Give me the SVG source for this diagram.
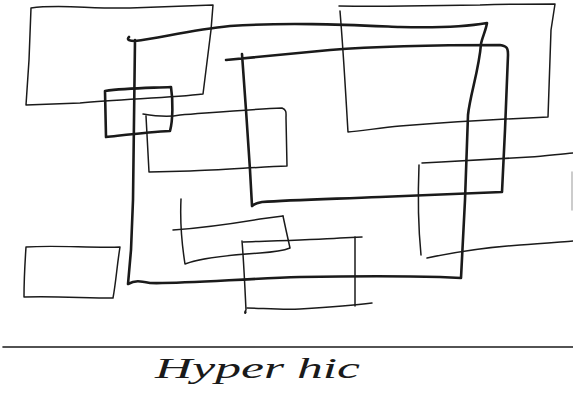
<svg xmlns="http://www.w3.org/2000/svg" width="573" height="395" viewBox="0 0 573 395">
<style>
.s{fill:none;stroke:#1a1a1a;stroke-linecap:round;stroke-linejoin:round}
.thin{stroke-width:1.5}
.thick{stroke-width:2.6}
.lbl{font-family:"Liberation Serif","DejaVu Serif",serif;font-style:italic;font-size:30px;fill:#1a1a1a}
</style>
<rect width="573" height="395" fill="#fff"/>
<g id="rect-top-left"><path class="s thin" d="M31,8 C60,4 90,9 130,8 C160,7 190,6 213,5 L211,30 L203,94 C170,98 120,99 80,103 L26,105 L29,60 L31,8"/></g>
<g id="rect-big"><path class="s thick" d="M129,37 C126,40 130,41 135,41 C160,38 190,30 230,26 C290,22 350,25 400,27 C440,28 470,26 487,23 C486,30 482,38 481,44 C479,70 470,95 468,115 L465,200 L461,278 L440,277 C400,276 360,276 300,277 C240,279 180,284 150,283 C140,281 135,280 128,284 L131,250 L133,200 L135,40"/></g>
<g id="rect-small"><path class="s thick" d="M105,91 C125,88 150,88 171,87 C173,100 173,120 170,131 C150,132 125,135 106,137 L105,91"/></g>
<g id="rect-mid-left"><path class="s thin" d="M143,114 C155,116 170,117 180,115 C220,112 255,109 282,108 C287,110 286,113 286,118 L287,166 C260,167 220,170 190,171 L149,172 L146,116"/></g>
<g id="rect-inner"><path class="s thick" d="M226,60 C250,58 290,54 330,50 C380,46 440,45 500,45 C507,46 508,48 508,55 L505,130 L502,192 C470,193 430,195 380,197 C330,199 290,200 262,202 C256,203 253,205 252,206 L250,170 L246,110 L242,54"/></g>
<g id="rect-top-right"><path class="s thin" d="M339,6 C400,7 450,5 480,5 C510,4 540,4 555,4 L551,30 L548,117 C500,119 440,123 400,126 C380,128 360,131 348,132 C346,100 344,60 340,11"/></g>
<g id="rect-right-mid"><path class="s thin" d="M422,163 C460,161 500,159 530,157 C545,156 560,154 573,153"/><path class="s thin" d="M419,165 C418,190 418,225 421,255"/><path class="s thin" d="M427,258 C460,251 490,247 520,245 C540,244 560,242 573,241"/><path class="s thin" style="stroke:#bbb" d="M572,172 L572,210"/></g>
<g id="rect-lower-mid"><path class="s thin" d="M181,199 C180,220 182,245 185,264 C200,258 230,255 260,253 C275,252 285,250 290,248 L286,230 L283,216"/><path class="s thin" d="M173,230 C200,228 230,224 260,219 L283,216"/></g>
<g id="rect-bottom-mid"><path class="s thin" d="M243,242 C270,241 310,240 340,238 L362,237"/><path class="s thin" d="M242,241 C244,265 245,290 246,310 C244,312 245,315 246,312"/><path class="s thin" d="M355,237 L355,306"/><path class="s thin" d="M247,308 C260,308 280,310 300,309 C330,307 355,305 372,303"/></g>
<g id="rect-bottom-left"><path class="s thin" d="M26,247 C55,245 90,248 120,247 C117,265 116,282 113,298 C85,298 55,296 24,297 C24,280 25,262 26,247"/></g>
<g id="footer"><path class="s" style="stroke-width:1.6" d="M3,347 L573,347"/><text class="lbl" x="155" y="378" textLength="205" lengthAdjust="spacingAndGlyphs">Hyper hic</text></g>
</svg>
